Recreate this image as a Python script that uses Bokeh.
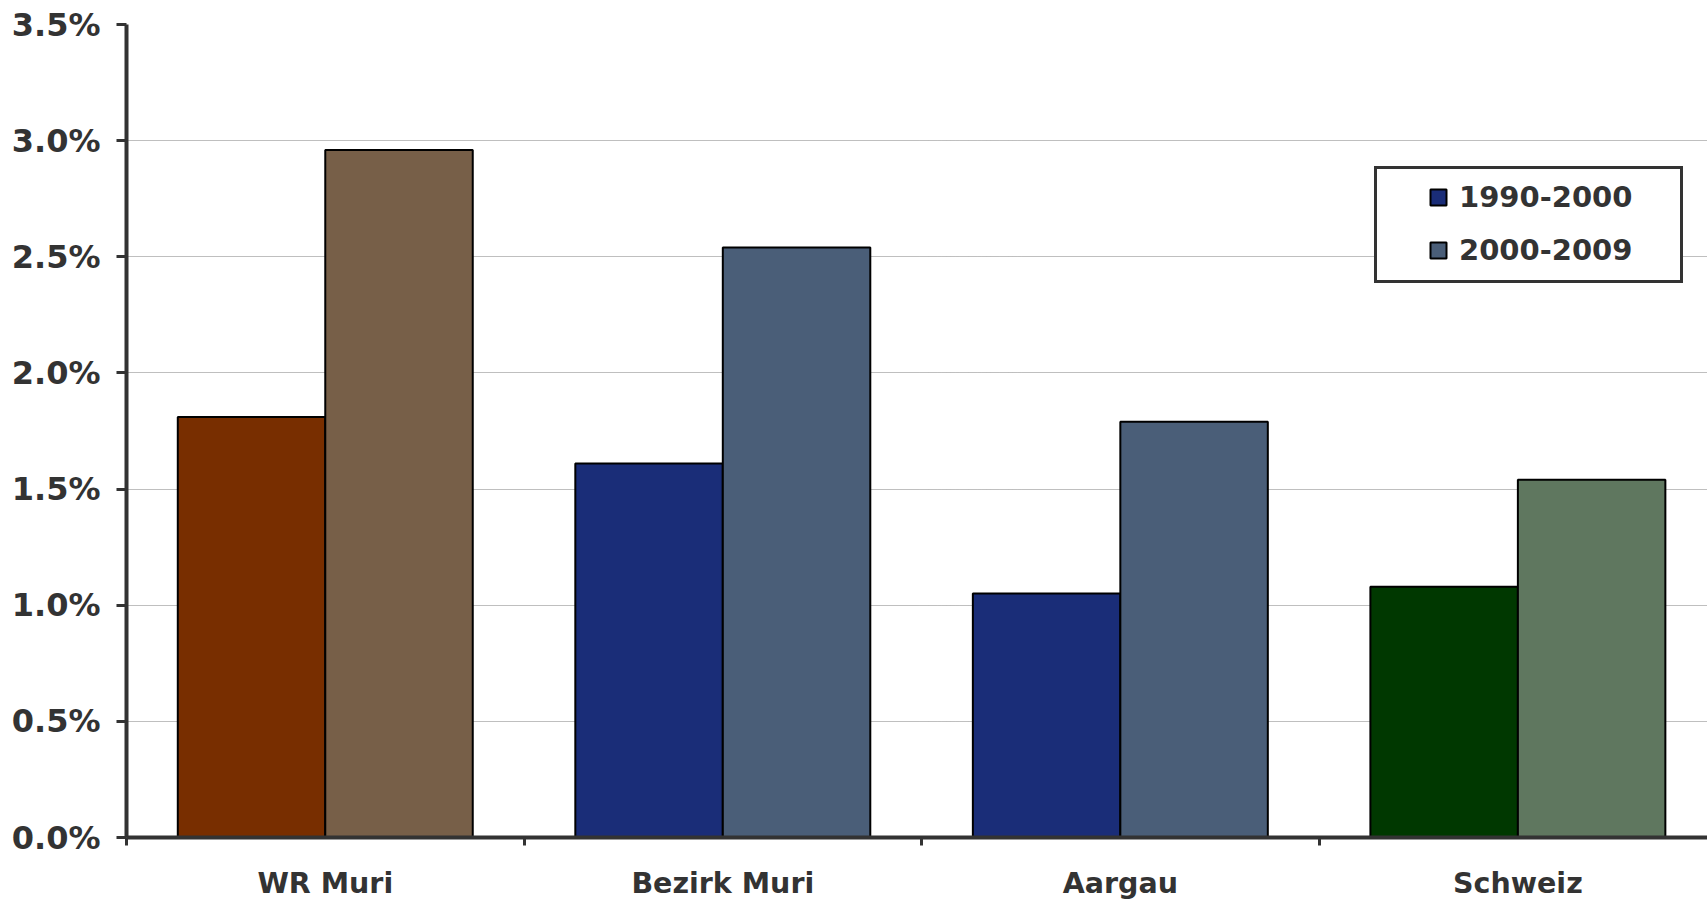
from bokeh.plotting import figure
from bokeh.models import (ColumnDataSource, Range1d, FixedTicker, PrintfTickFormatter,
                          Legend, LegendItem)
from bokeh.embed import file_html
from bokeh.resources import INLINE

categories = ["WR Muri", "Bezirk Muri", "Aargau", "Schweiz"]
series_names = ["1990-2000", "2000-2009"]
values_1990_2000 = [1.81, 1.61, 1.05, 1.08]
values_2000_2009 = [2.96, 2.54, 1.79, 1.54]
colors_1990_2000 = ["#782E00", "#1A2D78", "#1A2D78", "#003800"]
colors_2000_2009 = ["#775F48", "#4A5E78", "#4A5E78", "#5F775F"]
y_ticks = [0.0, 0.5, 1.0, 1.5, 2.0, 2.5, 3.0, 3.5]

FONT = "DejaVu Sans"
TXT = "#333333"
bar_w = 0.371

centers = [i + 0.5 for i in range(len(categories))]
src1 = ColumnDataSource(dict(x=[c - bar_w / 2 for c in centers], top=values_1990_2000, color=colors_1990_2000))
src2 = ColumnDataSource(dict(x=[c + bar_w / 2 for c in centers], top=values_2000_2009, color=colors_2000_2009))

p = figure(width=1707, height=902, output_backend="svg", toolbar_location=None,
           x_range=Range1d(0, 3.977), y_range=Range1d(0, 3.5),
           min_border_left=126, min_border_right=0, min_border_top=24, min_border_bottom=64)
p.outline_line_color = None
p.background_fill_color = "white"

r1 = p.vbar(x="x", top="top", bottom=0, width=bar_w, fill_color="color", line_color="black",
            line_width=2, source=src1)
r2 = p.vbar(x="x", top="top", bottom=0, width=bar_w, fill_color="color", line_color="black",
            line_width=2, source=src2)

# axes
p.xaxis.ticker = FixedTicker(ticks=centers, minor_ticks=[0, 1, 2, 3, 4])
p.xaxis.major_label_overrides = {c: n for c, n in zip(centers, categories)}
p.xaxis.major_tick_line_color = None
p.xaxis.major_tick_out = 8
p.xaxis.major_tick_in = 0
p.xaxis.minor_tick_out = 8
p.xaxis.minor_tick_in = 0
p.xaxis.minor_tick_line_width = 3
p.xaxis.minor_tick_line_color = TXT
p.xaxis.major_label_standoff = 21

p.yaxis.ticker = FixedTicker(ticks=y_ticks, minor_ticks=[])
p.yaxis.formatter = PrintfTickFormatter(format="%.1f%%")
p.yaxis.major_tick_out = 10
p.yaxis.major_tick_in = 0
p.yaxis.major_tick_line_width = 3
p.yaxis.major_tick_line_color = TXT
p.yaxis.major_label_standoff = 16

for ax in (p.xaxis, p.yaxis):
    ax.axis_line_width = 4
    ax.axis_line_color = TXT
    ax.major_label_text_font = FONT
    ax.major_label_text_font_style = "bold"
    ax.major_label_text_color = TXT
p.xaxis.major_label_text_font_size = "28.5px"
p.yaxis.major_label_text_font_size = "32px"

p.xgrid.grid_line_color = None
p.ygrid.ticker = FixedTicker(ticks=y_ticks)
p.ygrid.grid_line_color = "#7f7f7f"
p.ygrid.grid_line_dash = "1 1"
p.ygrid.grid_line_width = 1

# legend frame
box = Legend(items=[LegendItem(label=" ", renderers=[r1], index=1)],
             location=(1248, 554), padding=0, margin=0, spacing=0,
             glyph_width=0, glyph_height=111, label_width=303, label_height=111,
             label_standoff=0, label_text_alpha=0,
             border_line_color=TXT, border_line_width=3, border_line_alpha=1,
             background_fill_color="white", background_fill_alpha=1)
p.add_layout(box, "center")

leg = Legend(items=[LegendItem(label=series_names[0], renderers=[r1], index=1),
                    LegendItem(label=series_names[1], renderers=[r2], index=1)],
             location=(1302, 570), padding=0, margin=0, spacing=19,
             glyph_width=20, glyph_height=20, label_standoff=11,
             label_text_font=FONT, label_text_font_style="bold", label_text_font_size="29px",
             label_text_color=TXT, border_line_alpha=0, background_fill_alpha=0)
p.add_layout(leg, "center")

open("out.html", "w").write(file_html(p, INLINE))
